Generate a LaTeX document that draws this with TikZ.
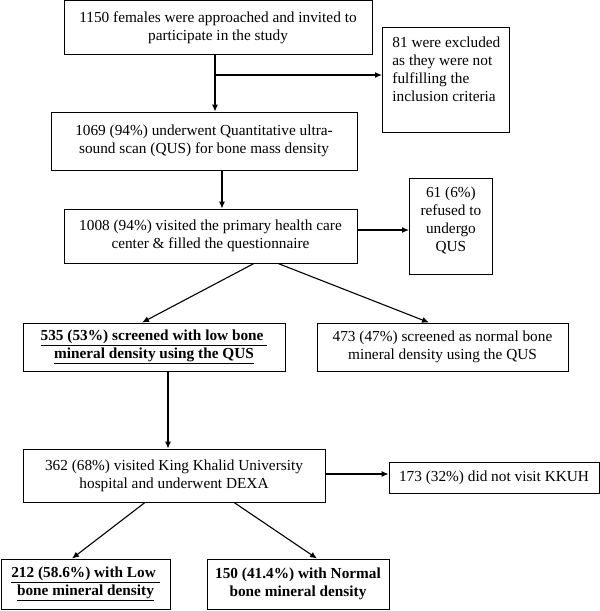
\documentclass[tikz,border=0pt]{standalone}
\usepackage{fontspec}
\setmainfont{Liberation Serif}
\usetikzlibrary{arrows.meta}
\begin{document}
\begin{tikzpicture}[x=1pt,y=-1pt,
  box/.style={draw, line width=0.9pt, rectangle, inner sep=0pt, align=center,
    font=\fontsize{15.3}{18}\selectfont},
  arr/.style={line width=1.1pt, -{Latex[length=7pt,width=6pt]}}]
\useasboundingbox (0,0) rectangle (600,611);
\node[box, minimum width=308pt, minimum height=54pt] (b1) at (218,27.5)
  {1150 females were approached and invited to\\participate in the study};
\node[box, anchor=north west, inner xsep=0pt, inner ysep=5pt] (b81) at (382,27)
  {\begin{minipage}[t][95pt][t]{127pt}\vspace*{4pt}\raggedright\leftskip=10pt\fontsize{15.3}{18}\selectfont
   81 were excluded\\as they were not\\fulfilling the\\inclusion criteria\end{minipage}};
\node[box, minimum width=306pt, minimum height=58pt] (b2) at (204,141)
  {1069 (94\%) underwent Quantitative ultra-\\sound scan (QUS) for bone mass density};
\node[box, minimum width=293pt, minimum height=54pt] (b3) at (210.5,236)
  {1008 (94\%) visited the primary health care\\center \& filled the questionnaire};
\node[box, anchor=north west, inner xsep=0pt, inner ysep=5pt] (b61) at (409,178)
  {\begin{minipage}[t][86pt][t]{83pt}\vspace*{3pt}\centering\fontsize{15.3}{18}\selectfont
   61 (6\%)\\refused to\\undergo\\QUS\end{minipage}};
\node[box, minimum width=262pt, minimum height=48pt] (b4) at (154,347)
  {\bfseries\underline{535 (53\%) screened with low bone\ }\\\bfseries\underline{mineral density using the QUS}};
\node[box, minimum width=251pt, minimum height=48pt] (b5) at (442.5,347)
  {473 (47\%) screened as normal bone\\mineral density using the QUS};
\node[box, minimum width=302pt, minimum height=53pt] (b6) at (174,475.5)
  {362 (68\%) visited King Khalid University\\hospital and underwent DEXA};
\node[box, minimum width=210pt, minimum height=31pt] (b7) at (494,477.5)
  {173 (32\%) did not visit KKUH};
\node[box, minimum width=169pt, minimum height=50pt] (b8) at (85.5,584)
  {\bfseries\underline{212 (58.6\%) with Low\ }\\\bfseries\underline{bone mineral density}};
\node[box, minimum width=182pt, minimum height=50pt] (b9) at (298,584)
  {\bfseries 150 (41.4\%) with Normal\\\bfseries bone mineral density};
% connectors
\coordinate (j1) at (215,75);
\draw[arr] (b1.south -| j1) -- (b2.north -| j1);
\draw[arr] (j1) -- (j1 -| b81.west);
\draw[arr] (b2.south -| 222,0) -- (b3.north -| 222,0);
\draw[arr] (b3.east |- 0,230) -- (b61.west |- 0,230);
\draw[arr] (b3.south -| 254,0) -- (b4.north -| 142,0);
\draw[arr] (b3.south -| 278,0) -- (b5.north -| 429,0);
\draw[arr] (b4.south -| 168,0) -- (b6.north -| 168,0);
\draw[arr] (b6.east |- 0,474) -- (b7.west |- 0,474);
\draw[arr] (b6.south -| 145,0) -- (b8.north -| 72,0);
\draw[arr] (b6.south -| 234,0) -- (b9.north -| 317,0);
\end{tikzpicture}
\end{document}
